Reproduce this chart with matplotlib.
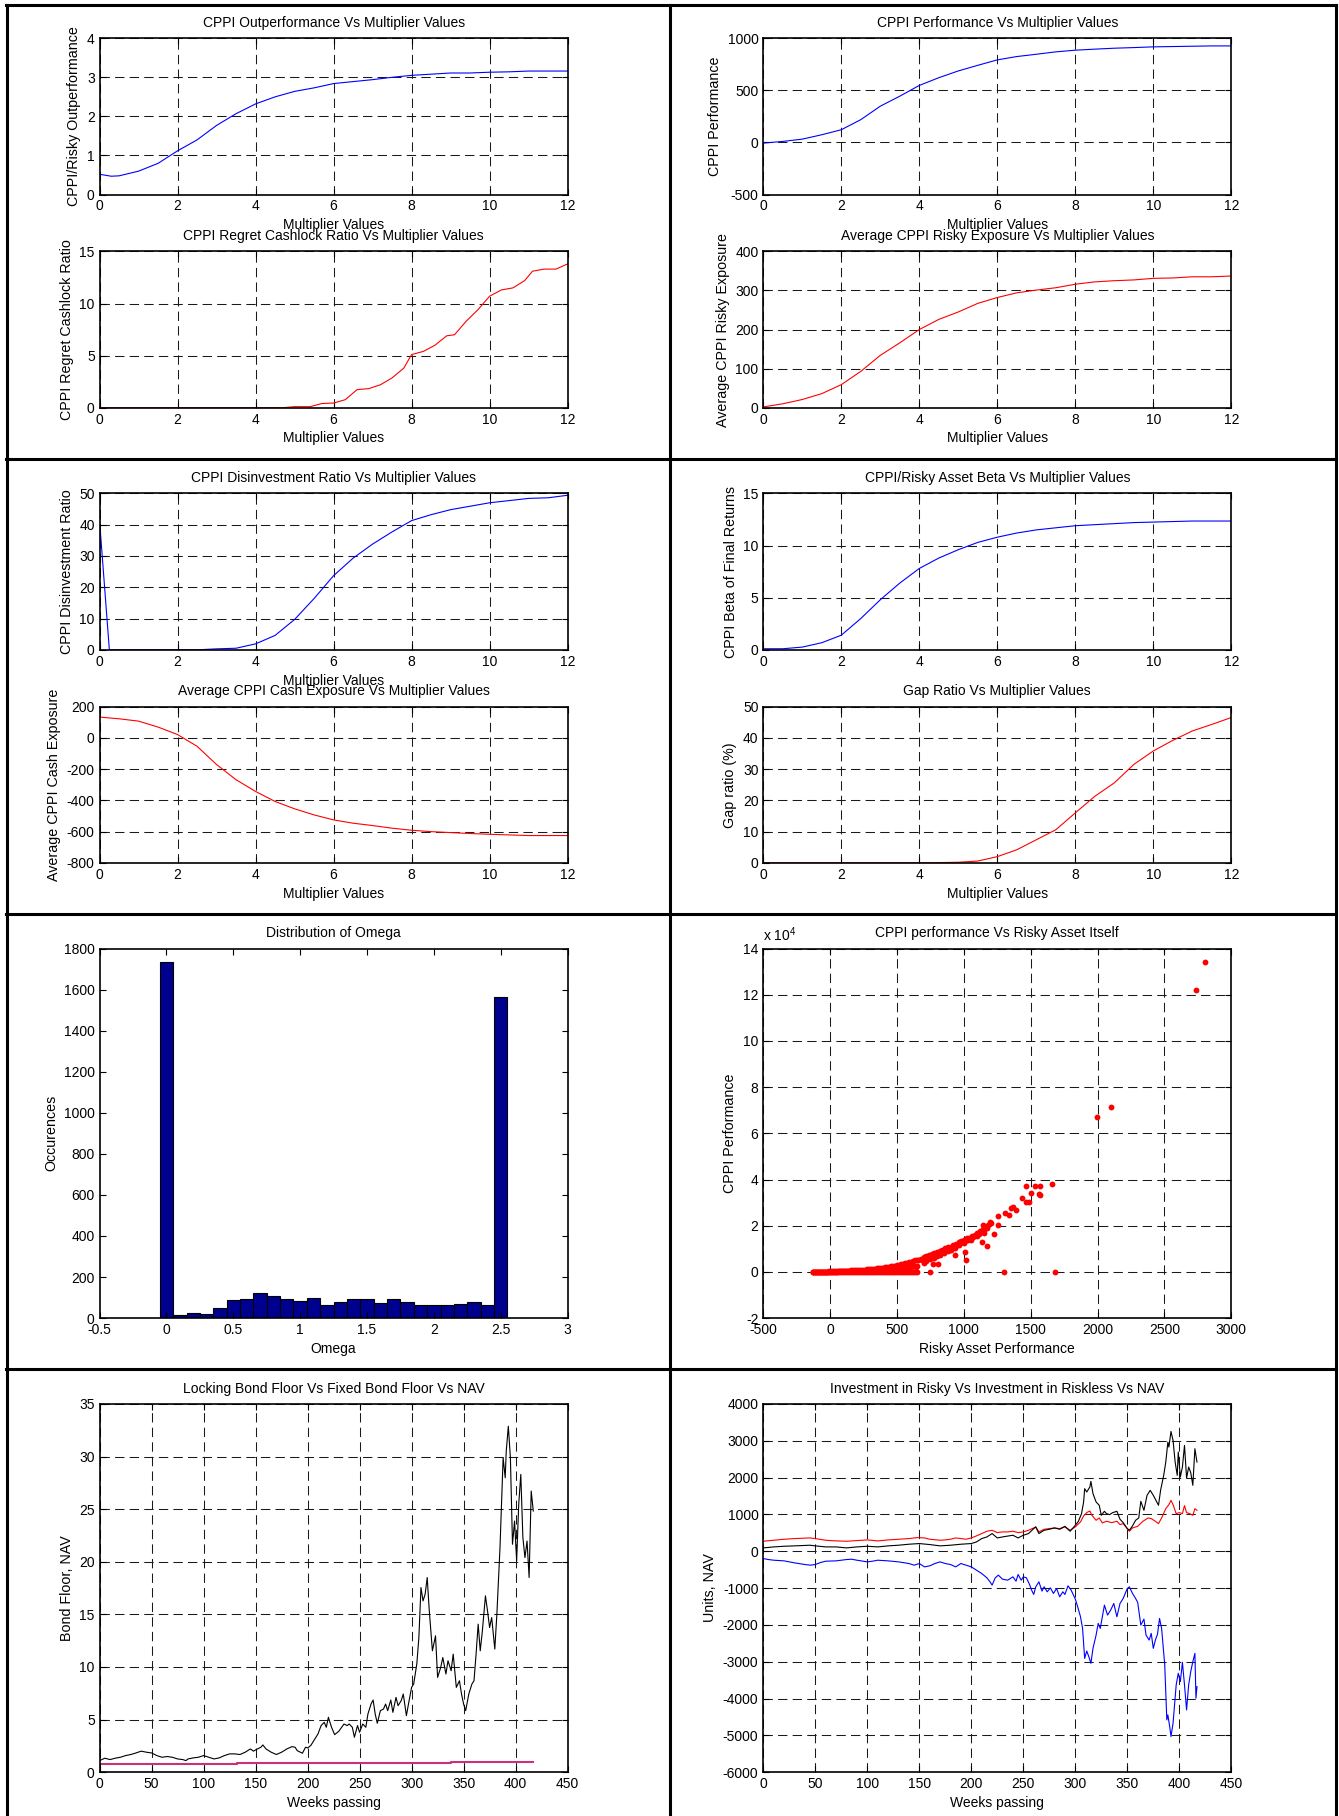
import numpy as np
import matplotlib
matplotlib.use("Agg")
import matplotlib.pyplot as plt
from matplotlib.lines import Line2D
from matplotlib.ticker import FuncFormatter

plt.rcParams["font.family"] = ["Liberation Sans", "DejaVu Sans"]
plt.rcParams["axes.unicode_minus"] = False
plt.rcParams["mathtext.default"] = "regular"

# ---- multiplier sweeps -------------------------------------------------
mult = [0, 0.5, 1, 1.5, 2, 2.5, 3, 3.5, 4, 4.5, 5, 5.5, 6, 6.5, 7, 7.5, 8,
        8.5, 9, 9.5, 10, 10.5, 11, 11.5, 12]

outperf_x = [0, 0.3, 0.5, 1, 1.5, 2, 2.5, 3, 3.5, 4, 4.5, 5, 5.5, 6, 6.5, 7,
             7.5, 8, 8.5, 9, 9.5, 10, 10.5, 11, 11.5, 12]
outperf = [0.52, 0.47, 0.48, 0.6, 0.8, 1.12, 1.4, 1.77, 2.07, 2.32, 2.5, 2.64,
           2.73, 2.84, 2.89, 2.94, 3.0, 3.05, 3.08, 3.11, 3.11, 3.13, 3.14,
           3.16, 3.16, 3.16]

regret_x = [0, 4.7, 5.0, 5.4, 5.7, 6.0, 6.3, 6.6, 6.9, 7.2, 7.5, 7.8, 8.0,
            8.3, 8.6, 8.9, 9.1, 9.4, 9.7, 10.0, 10.3, 10.6, 10.9, 11.1, 11.4,
            11.7, 12.0]
regret = [0, 0, 0.1, 0.1, 0.4, 0.45, 0.77, 1.73, 1.83, 2.2, 2.86, 3.8, 5.1,
          5.4, 6.0, 6.9, 7.0, 8.3, 9.4, 10.7, 11.3, 11.5, 12.2, 13.1, 13.3,
          13.3, 13.8]

performance = [-6, 10, 32, 74, 122, 219, 348, 444, 547, 621, 686, 740, 792,
               824, 846, 869, 885, 895, 904, 910, 917, 920, 923, 926, 926]

risky_exposure = [2, 10, 21, 36, 59, 93, 134, 166, 200, 226, 245, 267, 282,
                  294, 301, 307, 316, 322, 325, 327, 331, 332, 335, 335, 337]

disinv_x = [0, 0.25, 0.5, 1, 1.5, 2, 2.5, 3, 3.5, 4, 4.5, 5, 5.5, 6, 6.5, 7,
            7.5, 8, 8.5, 9, 9.5, 10, 10.5, 11, 11.5, 12]
disinv = [41, 0, 0, 0, 0, 0, 0, 0.3, 0.5, 1.9, 4.6, 9.7, 16.4, 23.7, 29.3,
          33.8, 37.7, 41.3, 43.2, 44.8, 45.9, 47.0, 47.7, 48.4, 48.6, 49.4]

cash_exposure = [133, 122, 107, 69, 21, -54, -171, -268, -343, -407, -454,
                 -493, -525, -546, -561, -578, -591, -600, -606, -612, -617,
                 -621, -625, -625, -625]

beta = [0.1, 0.1, 0.26, 0.68, 1.4, 3.0, 4.8, 6.4, 7.8, 8.8, 9.6, 10.3, 10.8,
        11.2, 11.5, 11.7, 11.9, 12.0, 12.1, 12.2, 12.25, 12.3, 12.35, 12.35,
        12.35]

gap_ratio = [0, 0, 0, 0, 0, 0, 0, 0, 0, 0.1, 0.2, 0.6, 2.0, 4.2, 7.4, 10.6,
             16.0, 21.3, 25.6, 31.5, 35.8, 39.2, 42.2, 44.3, 46.5]

# ---- omega histogram ---------------------------------------------------
omega_centers = [0, 0.1, 0.2, 0.3, 0.4, 0.5, 0.6, 0.7, 0.8, 0.9, 1.0, 1.1,
                 1.2, 1.3, 1.4, 1.5, 1.6, 1.7, 1.8, 1.9, 2.0, 2.1, 2.2, 2.3,
                 2.4, 2.5]
omega_counts = [1733, 15, 26, 20, 47, 89, 94, 120, 110, 94, 83, 99, 63, 78, 94,
                94, 73, 94, 78, 63, 63, 63, 68, 78, 63, 1563]

# ---- CPPI vs risky scatter ---------------------------------------------
band_x = [-130, -100, -70, -40, -10, 20, 50, 80, 110, 140, 170, 200, 230, 260,
          290, 320, 350, 380, 410, 440, 470, 500, 530, 560, 590, 620, 650]
band_top = [0, 50, 90, 140, 190, 250, 330, 410, 490, 570, 670, 780, 910, 1040,
            1190, 1350, 1530, 1720, 1940, 2200, 2500, 2850, 3250, 3700, 4200,
            4750, 5300]
band_mid = [0, 20, 40, 70, 90, 120, 160, 200, 240, 280, 330, 390, 450, 520,
            600, 680, 770, 860, 970, 1100, 1250, 1420, 1620, 1850, 2100, 2380,
            2650]
band2_x = [-115, -85, -55, -25, 5, 35, 65, 95, 125, 155, 185, 215, 245, 275,
           305, 335, 365, 395, 425, 455, 485, 515, 545, 575, 605, 635]
band2_top = [25, 70, 115, 165, 220, 290, 370, 450, 530, 620, 725, 845, 975,
             1115, 1270, 1440, 1625, 1830, 2070, 2350, 2675, 3050, 3475, 3950,
             4475, 5000]
band2_mid = [10, 30, 55, 80, 105, 140, 180, 220, 260, 305, 360, 420, 485, 560,
             640, 725, 815, 915, 1035, 1175, 1335, 1520, 1735, 1975, 2240,
             2500]
cloud_x = [680, 700, 720, 740, 760, 780, 800, 820, 840, 860, 880, 900, 920,
           940, 960, 980, 1000, 1020, 1040, 1060, 1080, 1100, 1120, 1140, 1160,
           1180, 1200, 700, 720, 750, 770, 780, 800, 820, 850, 880, 900, 930,
           960, 1000, 1050, 1100, 1150]
cloud_y = [5800, 6300, 6800, 7300, 7600, 8300, 8700, 9200, 9600, 10200, 10600,
           11000, 11700, 12200, 12800, 13300, 13800, 14500, 14900, 15500,
           16200, 16800, 17600, 18500, 19500, 20300, 21300, 4000, 4800, 5500,
           3500, 6000, 6800, 7500, 8000, 9000, 9500, 10500, 11500, 12500,
           14000, 15500, 17000]
cloud2_x = [660, 690, 710, 730, 750, 770, 790, 810, 830, 850, 870, 890, 910,
            930, 950, 970, 990, 1010, 1030, 1050, 1070, 1090, 1110, 1130,
            1150, 1170]
cloud2_y = [5000, 5200, 5800, 6200, 6600, 7000, 7600, 8000, 8600, 9000, 9600,
            10000, 10500, 11200, 11800, 12400, 13000, 13500, 14000, 14600,
            15300, 16000, 16500, 17200, 18000, 19200]
sparse_x = [2806, 2735, 2100, 1993, 1662, 1572, 1533, 1461, 1500, 1559, 1572,
            1435, 1461, 1484, 1387, 1371, 1354, 1306, 1338, 1257, 1257, 1225,
            1193, 1144, 1176, 1134, 1008, 1018, 1299, 1685, 933, 804, 745, 642]
sparse_y = [134200, 122100, 71500, 67200, 37900, 37400, 37400, 37000, 34000,
            33700, 33500, 31800, 30300, 30300, 26700, 28200, 27500, 25300,
            24600, 24100, 20200, 16600, 21700, 20200, 11100, 13000, 8700, 5100,
            0, 0, 7200, 3600, 0, 300]

# ---- weekly paths ------------------------------------------------------
nav_weeks = [0, 5, 10, 15, 20, 25, 30, 35, 40, 45, 50, 55, 60, 65, 70, 75, 80,
             83, 85, 90, 95, 100, 105, 110, 115, 120, 125, 130, 135, 140, 145,
             148, 150, 155, 157, 160, 165, 170, 175, 180, 185, 188, 190, 195,
             198, 200, 203, 206, 210, 213, 216, 218, 220, 223, 226, 230, 235,
             238, 240, 243, 245, 248, 250, 253, 256, 258, 261, 263, 265, 267,
             270, 273, 275, 277, 280, 282, 285, 287, 290, 292, 295, 297, 300,
             302, 305, 307, 309, 311, 313, 315, 317, 320, 323, 325, 328, 330,
             333, 335, 338, 340, 343, 346, 348, 350, 352, 355, 358, 360, 362,
             364, 366, 368, 371, 373, 375, 377, 380, 382, 385, 388, 390, 391,
             393, 395, 397, 399, 401, 403, 405, 407, 409, 411, 413, 415, 417]
nav = [1.1, 1.33, 1.2, 1.33, 1.42, 1.58, 1.68, 1.83, 2.0, 1.9, 1.83, 1.58,
       1.42, 1.49, 1.42, 1.26, 1.2, 1.1, 1.26, 1.36, 1.42, 1.58, 1.42, 1.26,
       1.36, 1.58, 1.74, 1.74, 1.68, 1.9, 2.21, 2.0, 2.12, 2.37, 2.59, 2.21,
       1.9, 1.68, 1.9, 2.21, 2.43, 2.37, 2.05, 1.8, 2.37, 2.31, 2.53, 3.0,
       3.64, 4.43, 4.74, 4.27, 5.22, 4.27, 3.57, 3.89, 4.58, 4.43, 4.58, 4.27,
       3.32, 4.43, 3.79, 4.58, 4.27, 5.53, 6.48, 6.86, 5.53, 4.65, 5.85, 6.01,
       6.48, 5.85, 6.86, 5.69, 7.11, 6.32, 6.8, 7.43, 5.37, 6.48, 8.06, 8.38,
       10.28, 12.8, 17.55, 16.28, 16.91, 18.5, 15.33, 11.54, 12.96, 9.01,
       9.96, 10.9, 9.33, 10.59, 9.64, 11.22, 8.06, 8.69, 7.43, 6.48, 5.85,
       7.43, 8.38, 8.69, 11.22, 14.07, 11.54, 13.38, 16.76, 15.33, 13.75,
       14.7, 11.7, 15.02, 21.34, 29.88, 27.98, 30.51, 32.88, 29.88, 21.66,
       23.87, 20.08, 25.45, 28.3, 22.29, 20.39, 21.97, 18.5, 26.72, 24.82]

floor_weeks = [0, 132, 170, 338, 417]
floor_vals = [0.79, 0.85, 0.92, 1.01, 1.01]

riskless_weeks = [0, 10, 20, 30, 45, 50, 60, 70, 80, 90, 100, 110, 120, 130,
                  140, 148, 155, 160, 170, 175, 180, 185, 190, 195, 200, 205,
                  210, 215, 220, 225, 230, 235, 240, 245, 250, 255, 260, 262,
                  265, 270, 275, 280, 285, 290, 295, 300, 305, 308, 311, 314,
                  316, 320, 323, 326, 330, 335, 340, 343, 346, 350, 352, 355,
                  360, 365, 370, 373, 377, 380, 383, 387, 390, 392, 394, 397,
                  400, 403, 405, 407, 410, 413, 415, 417]
riskless = [271, 298, 325, 343, 361, 343, 298, 280, 271, 289, 307, 280, 307,
            325, 343, 370, 361, 325, 298, 307, 325, 361, 343, 325, 361, 416,
            479, 542, 569, 506, 524, 524, 542, 506, 524, 569, 632, 659, 524,
            596, 614, 632, 614, 659, 569, 659, 795, 958, 1048, 1093, 976, 840,
            903, 768, 813, 777, 813, 723, 750, 614, 542, 632, 677, 813, 903,
            885, 813, 750, 903, 1156, 1265, 1382, 1265, 1021, 1048, 1021, 1238,
            1048, 1021, 976, 1156, 1111]

units_weeks = [0, 10, 20, 30, 45, 50, 60, 70, 80, 90, 100, 110, 120, 130, 140,
               150, 160, 170, 180, 190, 200, 205, 210, 215, 220, 225, 230, 240,
               245, 250, 255, 260, 262, 265, 270, 275, 280, 285, 290, 295, 300,
               303, 306, 308, 309, 311, 314, 315, 317, 320, 323, 325, 328, 330,
               333, 336, 340, 343, 346, 350, 352, 355, 358, 361, 363, 366, 369,
               372, 375, 378, 380, 382, 385, 387, 389, 390, 392, 394, 396, 398,
               399, 401, 403, 405, 407, 409, 411, 413, 415, 417]
units_nav = [90, 117, 135, 145, 163, 145, 117, 117, 90, 117, 135, 117, 145,
             163, 190, 208, 181, 145, 163, 190, 208, 253, 343, 388, 479, 361,
             388, 434, 361, 434, 479, 614, 659, 479, 569, 596, 632, 596, 677,
             542, 705, 813, 1021, 1337, 1698, 1608, 1743, 1897, 1563, 1337,
             1247, 976, 1084, 1021, 994, 1048, 1084, 867, 777, 614, 569, 687,
             840, 903, 1355, 1111, 1518, 1653, 1518, 1355, 1247, 1653, 2060,
             2421, 2963, 2828, 3252, 3008, 2421, 2060, 2692, 2015, 2286, 2873,
             1987, 2286, 2132, 1789, 2783, 2421]

risky_weeks = [0, 5, 10, 20, 30, 40, 45, 50, 55, 60, 70, 80, 85, 90, 100, 105,
               110, 120, 130, 140, 145, 150, 155, 160, 165, 170, 175, 180, 185,
               190, 195, 200, 205, 210, 215, 218, 220, 223, 226, 230, 235, 240,
               243, 245, 248, 250, 253, 256, 258, 260, 262, 265, 268, 270, 273,
               276, 279, 282, 285, 288, 290, 293, 296, 300, 302, 305, 307, 309,
               311, 313, 315, 317, 320, 322, 324, 326, 328, 331, 334, 337, 340,
               343, 346, 348, 350, 352, 355, 358, 360, 363, 366, 368, 371, 373,
               375, 377, 379, 381, 383, 386, 388, 389, 391, 392, 394, 397, 399,
               401, 403, 405, 407, 409, 411, 413, 415, 416, 417]
risky = [-199, -226, -244, -262, -316, -361, -379, -361, -307, -271, -262,
         -226, -217, -244, -289, -271, -244, -262, -289, -334, -379, -334,
         -425, -397, -334, -289, -334, -361, -425, -334, -379, -425, -515,
         -605, -723, -831, -921, -723, -650, -759, -786, -696, -813, -632,
         -786, -696, -723, -903, -1057, -1174, -966, -831, -1084, -966, -1102,
         -994, -1147, -1012, -1238, -1102, -1174, -939, -1057, -1300, -1481,
         -1780, -2096, -2909, -2710, -2863, -3044, -2638, -2276, -1960, -2096,
         -1780, -1463, -1734, -1599, -1418, -1780, -1418, -1283, -1147, -1012,
         -966, -1147, -1283, -1391, -2005, -1843, -2276, -2412, -2231, -2638,
         -2412, -2258, -1825, -2096, -3089, -4580, -4444, -4806, -5032, -4670,
         -3631, -3315, -3541, -3017, -3631, -4309, -3631, -3270, -2999, -2773,
         -3993, -3676]

# ---- page layout (pixels) ----------------------------------------------
W, H = 1339, 1816
fig = plt.figure(figsize=(W / 100, H / 100), dpi=100)

LEFT = (99.6, 567.6)
RIGHT = (763.3, 1231.3)
R1U, R1L = (38.2, 194.6), (251.4, 407.7)
R2U, R2L = (493.4, 649.8), (706.6, 862.9)
R3 = (948.6, 1318.1)
R4 = (1403.9, 1772.2)

GRID = dict(color="0.1", linewidth=0.75, linestyle=(0, (9, 5)))
g_fmt = FuncFormatter(lambda v, p: f"{v:g}")
TITLE_PAD = 8
XLABEL_PAD = 3.5


def add_axes_px(cols, rows):
    (l, r), (t, b) = cols, rows
    return fig.add_axes([l / W, 1 - b / H, (r - l) / W, (b - t) / H])


def style(ax, grid=True):
    for s in ax.spines.values():
        s.set_linewidth(1.2)
    ax.tick_params(direction="in", top=True, right=True, length=4, width=0.8,
                   labelsize=10, pad=3.5)
    ax.xaxis.set_major_formatter(g_fmt)
    if grid:
        ax.grid(True, **GRID)


def curve_panel(cols, rows, x, y, color, title, ylabel, ylim, ystep,
                xlabel=True):
    ax = add_axes_px(cols, rows)
    ax.plot(x, y, color=color, linewidth=0.8)
    ax.set_xlim(0, 12)
    ax.set_xticks(range(0, 13, 2))
    ax.set_ylim(*ylim)
    ax.set_yticks(np.arange(ylim[0], ylim[1] + ystep / 2, ystep))
    ax.set_title(title, fontsize=10, pad=TITLE_PAD)
    ax.set_ylabel(ylabel, fontsize=10.3, labelpad=4)
    if xlabel:
        ax.set_xlabel("Multiplier Values", fontsize=10, labelpad=XLABEL_PAD)
    style(ax)
    return ax


curve_panel(LEFT, R1U, outperf_x, outperf, "blue",
            "CPPI Outperformance Vs Multiplier Values",
            "CPPI/Risky Outperformance", (0, 4), 1)
curve_panel(LEFT, R1L, regret_x, regret, "red",
            "CPPI Regret Cashlock Ratio Vs Multiplier Values",
            "CPPI Regret Cashlock Ratio", (0, 15), 5)
curve_panel(RIGHT, R1U, mult, performance, "blue",
            "CPPI Performance Vs Multiplier Values",
            "CPPI Performance", (-500, 1000), 500)
curve_panel(RIGHT, R1L, mult, risky_exposure, "red",
            "Average CPPI Risky Exposure Vs Multiplier Values",
            "Average CPPI Risky Exposure", (0, 400), 100)
curve_panel(LEFT, R2U, disinv_x, disinv, "blue",
            "CPPI Disinvestment Ratio Vs Multiplier Values",
            "CPPI Disinvestment Ratio", (0, 50), 10)
curve_panel(LEFT, R2L, mult, cash_exposure, "red",
            "Average CPPI Cash Exposure Vs Multiplier Values",
            "Average CPPI Cash Exposure", (-800, 200), 200)
curve_panel(RIGHT, R2U, mult, beta, "blue",
            "CPPI/Risky Asset Beta Vs Multiplier Values",
            "CPPI Beta of Final Returns", (0, 15), 5, xlabel=False)
curve_panel(RIGHT, R2L, mult, gap_ratio, "red",
            "Gap Ratio Vs Multiplier Values",
            "Gap ratio (%)", (0, 50), 10)

# histogram of omega
ax = add_axes_px(LEFT, R3)
ax.bar(omega_centers, omega_counts, width=0.1, color=(0, 0, 0.56),
       edgecolor="black", linewidth=0.8)
ax.set_xlim(-0.5, 3)
ax.set_xticks(np.arange(-0.5, 3.01, 0.5))
ax.set_ylim(0, 1800)
ax.set_yticks(range(0, 1801, 200))
ax.set_title("Distribution of Omega", fontsize=10, pad=TITLE_PAD)
ax.set_xlabel("Omega", fontsize=10, labelpad=XLABEL_PAD)
ax.set_ylabel("Occurences", fontsize=10.3, labelpad=4)
style(ax, grid=False)

# CPPI vs risky asset scatter
ax = add_axes_px(RIGHT, R3)
dot = dict(linestyle="none", marker="o", markersize=4.2, color="red",
           markeredgewidth=0)
ax.plot(band_x, np.zeros(len(band_x)), **dot)
ax.plot(band2_x, np.zeros(len(band2_x)), **dot)
ax.plot(band_x, band_mid, **dot)
ax.plot(band2_x, band2_mid, **dot)
ax.plot(band_x, band_top, **dot)
ax.plot(band2_x, band2_top, **dot)
ax.plot(cloud_x, cloud_y, **dot)
ax.plot(cloud2_x, cloud2_y, **dot)
ax.plot(sparse_x, sparse_y, **dot)
ax.set_xlim(-500, 3000)
ax.set_xticks(range(-500, 3001, 500))
ax.set_ylim(-20000, 140000)
ax.set_yticks(range(-20000, 140001, 20000))
ax.set_title("CPPI performance Vs Risky Asset Itself", fontsize=10,
             pad=TITLE_PAD)
ax.set_xlabel("Risky Asset Performance", fontsize=10, labelpad=XLABEL_PAD)
ax.set_ylabel("CPPI Performance", fontsize=10.3, labelpad=4)
ax.text(0.0, 1.012, "x 10$^{4}$", transform=ax.transAxes, fontsize=10,
        ha="left", va="bottom")
style(ax)
ax.yaxis.set_major_formatter(FuncFormatter(lambda v, p: f"{v / 1e4:g}"))

# bond floors and NAV
ax = add_axes_px(LEFT, R4)
ax.plot(nav_weeks, nav, color="black", linewidth=0.8)
ax.plot(floor_weeks, floor_vals, color="#c8327a", linewidth=1.5,
        drawstyle="steps-post")
ax.set_xlim(0, 450)
ax.set_xticks(range(0, 451, 50))
ax.set_ylim(0, 35)
ax.set_yticks(range(0, 36, 5))
ax.set_title("Locking Bond Floor Vs Fixed Bond Floor Vs NAV", fontsize=10,
             pad=TITLE_PAD)
ax.set_xlabel("Weeks passing", fontsize=10, labelpad=XLABEL_PAD)
ax.set_ylabel("Bond Floor, NAV", fontsize=10.3, labelpad=4)
style(ax)

# risky / riskless allocation and NAV
ax = add_axes_px(RIGHT, R4)
ax.plot(riskless_weeks, riskless, color="red", linewidth=0.8)
ax.plot(units_weeks, units_nav, color="black", linewidth=0.8)
ax.plot(risky_weeks, risky, color="blue", linewidth=0.8)
ax.set_xlim(0, 450)
ax.set_xticks(range(0, 451, 50))
ax.set_ylim(-6000, 4000)
ax.set_yticks(range(-6000, 4001, 1000))
ax.set_title("Investment in Risky Vs Investment in Riskless Vs NAV",
             fontsize=10, pad=TITLE_PAD)
ax.set_xlabel("Weeks passing", fontsize=10, labelpad=XLABEL_PAD)
ax.set_ylabel("Units, NAV", fontsize=10.3, labelpad=4)
style(ax)


# table rules around the panels
def rule(x0, y0, x1, y1):
    fig.add_artist(Line2D([x0 / W, x1 / W], [1 - y0 / H, 1 - y1 / H],
                          color="black", linewidth=2.2,
                          transform=fig.transFigure))


for yy in (5, 459, 914, 1369):
    rule(6, yy, 1336, yy)
for xx in (7, 670, 1336):
    rule(xx, 5, xx, H)

fig.savefig("out.png", dpi=100)
